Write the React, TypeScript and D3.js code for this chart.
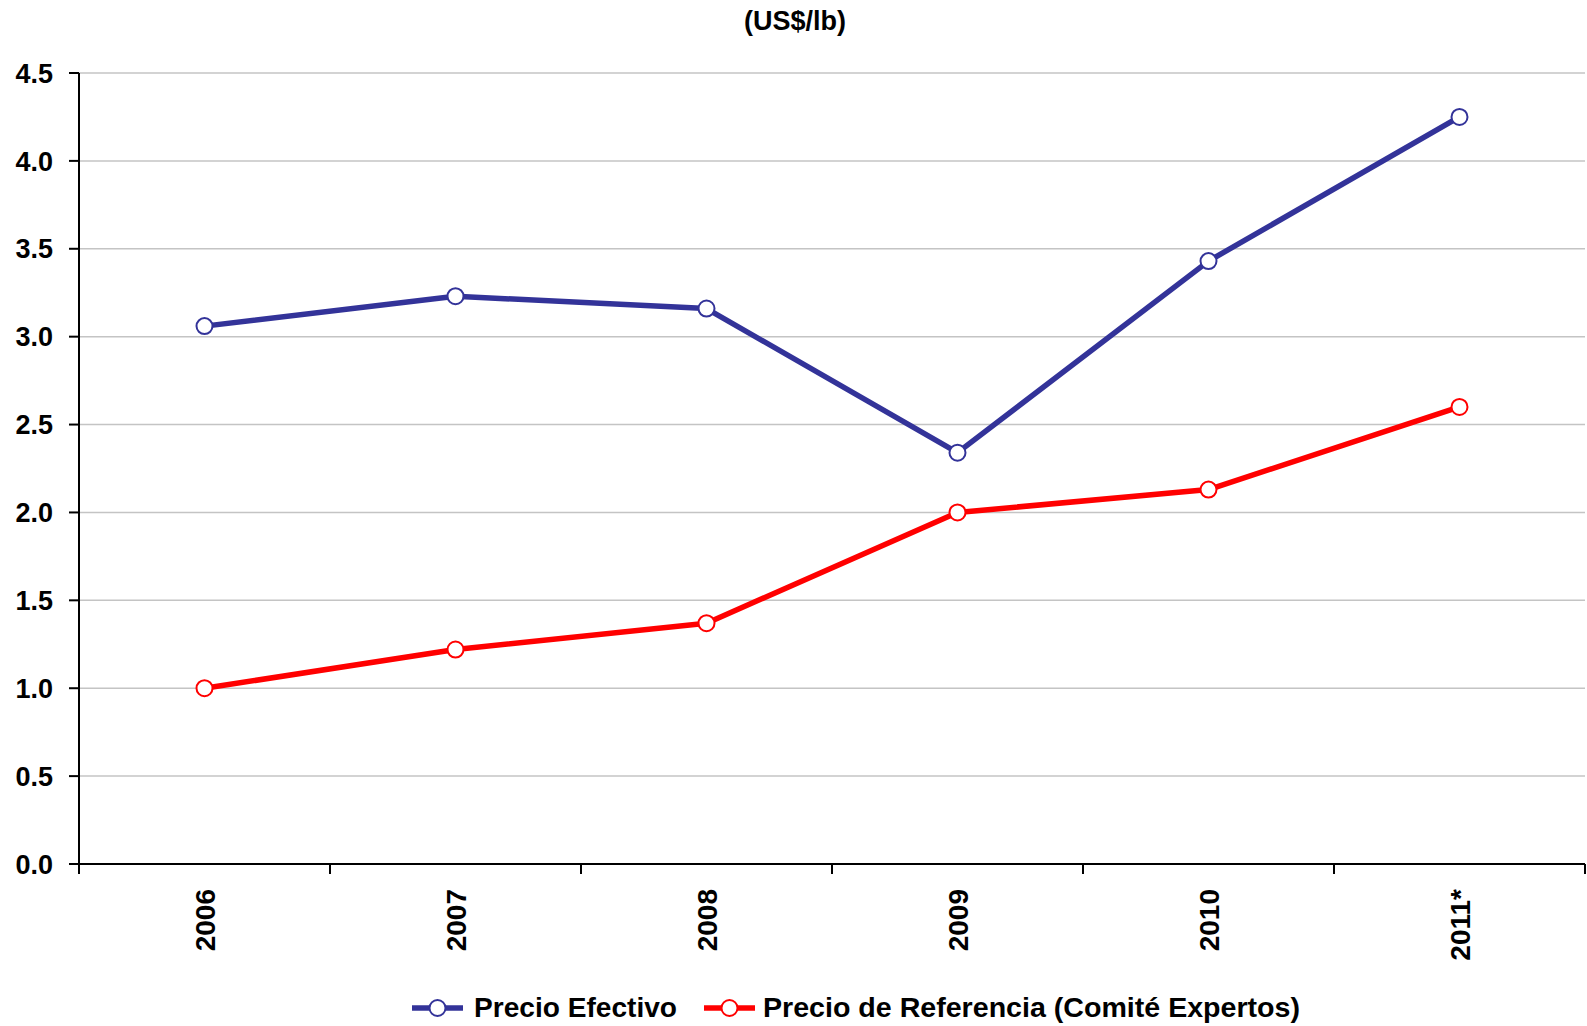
import React from "react";
import * as d3 from "d3";

const categories = ["2006", "2007", "2008", "2009", "2010", "2011*"];
const precioEfectivo = [3.06, 3.23, 3.16, 2.34, 3.43, 4.25];
const precioReferencia = [1.0, 1.22, 1.37, 2.0, 2.13, 2.6];
const yTicks = [0, 0.5, 1.0, 1.5, 2.0, 2.5, 3.0, 3.5, 4.0, 4.5];
const seriesNames = ["Precio Efectivo", "Precio de Referencia (Comité Expertos)"];
const seriesColors = ["#333399", "#FF0000"];
const title = "(US$/lb)";

const W = 1587;
const H = 1026;
const left = 79;
const right = 1585;
const top = 73;
const bottom = 864;
const font = "'Liberation Sans', Arial, sans-serif";

export default function App() {
  const x = d3.scaleBand<string>().domain(categories).range([left, right]);
  const y = d3.scaleLinear().domain([0, 4.5]).range([bottom, top]);
  const cx = (c: string) => (x(c) as number) + x.bandwidth() / 2;
  const line = d3
    .line<number>()
    .x((_, i) => cx(categories[i]))
    .y((d) => y(d));
  const series = [precioEfectivo, precioReferencia];
  const boundaries = categories.map((c) => x(c) as number).concat([right]);

  return (
    <svg
      width={W}
      height={H}
      style={{ position: "absolute", left: 0, top: 0, background: "#fff" }}
      fontFamily={font}
    >
      <rect x={0} y={0} width={W} height={H} fill="#fff" />
      <text x={795} y={30} textAnchor="middle" fontSize={27} fontWeight="bold" fill="#000">
        {title}
      </text>
      {yTicks.map((t) =>
        t > 0 ? (
          <line key={"g" + t} x1={left} x2={right} y1={y(t)} y2={y(t)} stroke="#c4c4c4" strokeWidth={1.5} />
        ) : null
      )}
      {yTicks.map((t) => (
        <g key={"t" + t}>
          <line x1={69} x2={left} y1={y(t)} y2={y(t)} stroke="#000" strokeWidth={2} />
          <text
            x={53}
            y={y(t)}
            dy="0.36em"
            textAnchor="end"
            fontSize={27}
            fontWeight="bold"
            fill="#000"
          >
            {t.toFixed(1)}
          </text>
        </g>
      ))}
      <line x1={left} x2={left} y1={top} y2={bottom} stroke="#000" strokeWidth={2} />
      <line x1={69} x2={right} y1={bottom} y2={bottom} stroke="#000" strokeWidth={2} />
      {boundaries.map((b, i) => (
        <line key={"xt" + i} x1={b} x2={b} y1={bottom} y2={bottom + 10} stroke="#000" strokeWidth={2} />
      ))}
      {categories.map((c) => (
        <text
          key={"xl" + c}
          transform={`translate(${cx(c) + 10},889) rotate(-90)`}
          textAnchor="end"
          fontSize={28}
          fontWeight="bold"
          fill="#000"
        >
          {c}
        </text>
      ))}
      {series.map((s, si) => (
        <g key={"s" + si}>
          <path d={line(s) || ""} fill="none" stroke={seriesColors[si]} strokeWidth={5.5} strokeLinejoin="round" />
          {s.map((v, i) => (
            <circle
              key={i}
              cx={cx(categories[i])}
              cy={y(v)}
              r={8}
              fill="#fff"
              stroke={seriesColors[si]}
              strokeWidth={2}
            />
          ))}
        </g>
      ))}
      {/* Legend */}
      {[
        { x0: 412, tx: 474, len: 203 },
        { x0: 704, tx: 763, len: 537 },
      ].map((lg, i) => (
        <g key={"lg" + i}>
          <line x1={lg.x0} x2={lg.x0 + 51} y1={1008} y2={1008} stroke={seriesColors[i]} strokeWidth={5.5} />
          <circle cx={lg.x0 + 25.5} cy={1008} r={8} fill="#fff" stroke={seriesColors[i]} strokeWidth={2} />
          <text
            x={lg.tx}
            y={1017}
            fontSize={28}
            fontWeight="bold"
            fill="#000"
            textLength={lg.len}
            lengthAdjust="spacingAndGlyphs"
          >
            {seriesNames[i]}
          </text>
        </g>
      ))}
    </svg>
  );
}
